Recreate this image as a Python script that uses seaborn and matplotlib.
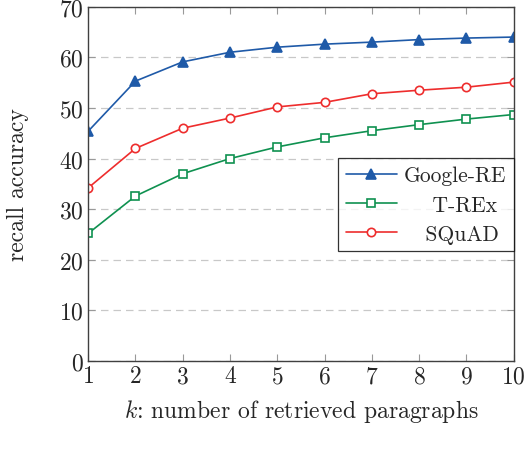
import numpy as np
import pandas as pd
import seaborn as sns
import matplotlib.pyplot as plt

# values
k = [1, 2, 3, 4, 5, 6, 7, 8, 9, 10]
google_re = [45.4, 55.3, 59.1, 61.0, 62.0, 62.6, 63.0, 63.5, 63.8, 64.0]
trex = [25.2, 32.6, 37.0, 40.0, 42.3, 44.1, 45.5, 46.7, 47.8, 48.7]
squad = [34.2, 42.0, 46.0, 48.0, 50.2, 51.1, 52.8, 53.5, 54.1, 55.1]
series = ['Google-RE', 'T-REx', 'SQuAD']

df = pd.DataFrame({'k': k * 3,
                   'acc': google_re + trex + squad,
                   'dataset': np.repeat(series, len(k))})

sns.set_style('ticks')
plt.rcParams['font.family'] = ['cmr10', 'DejaVu Serif']
plt.rcParams['mathtext.fontset'] = 'cm'
plt.rcParams['axes.formatter.use_mathtext'] = True

colors = {'Google-RE': '#1f5aa8', 'T-REx': '#0f9150', 'SQuAD': '#ee2d2d'}
markers = {'Google-RE': '^', 'T-REx': 's', 'SQuAD': 'o'}

fig = plt.figure(figsize=(5.28, 4.52), dpi=100)
ax = fig.add_axes([0.167, 0.199, 0.806, 0.784])

for name in series:
    d = df[df.dataset == name]
    filled = name == 'Google-RE'
    sns.lineplot(data=d, x='k', y='acc', ax=ax, color=colors[name],
                 marker=markers[name], markersize=6.5 if filled else 6,
                 markerfacecolor=colors[name] if filled else 'white',
                 markeredgecolor=colors[name], markeredgewidth=1.2,
                 linewidth=1.2, label=name)

ax.set_xlim(1, 10)
ax.set_ylim(0, 70)
ax.set_xticks(k)
ax.set_yticks(range(0, 71, 10))
ax.yaxis.grid(True, linestyle=(0, (6, 4)), color='#c8c8c8', linewidth=0.9)
ax.set_axisbelow(True)
ax.tick_params(direction='in', top=True, right=True, labelsize=17,
               color='#999999', length=5, width=0.8, pad=3)
for s in ax.spines.values():
    s.set_color('#404040')
    s.set_linewidth(1.0)

ax.set_xlabel('$k$: number of retrieved paragraphs', fontsize=17, labelpad=7)
ax.set_ylabel('recall accuracy', fontsize=17, labelpad=22)

leg = ax.legend(loc='upper right', bbox_to_anchor=(1.0, 0.572),
                borderaxespad=0, fontsize=15.5, frameon=True, fancybox=False,
                edgecolor='black', handlelength=2.4, handletextpad=0.3,
                labelspacing=0.45, borderpad=0.35)
leg.get_frame().set_linewidth(0.9)
# centre the shorter entries like the pgfplots legend
for t, pad in zip(leg.get_texts(), ['', '    ', '   ']):
    t.set_text(pad + t.get_text())

fig.savefig('out.png', dpi=100)
